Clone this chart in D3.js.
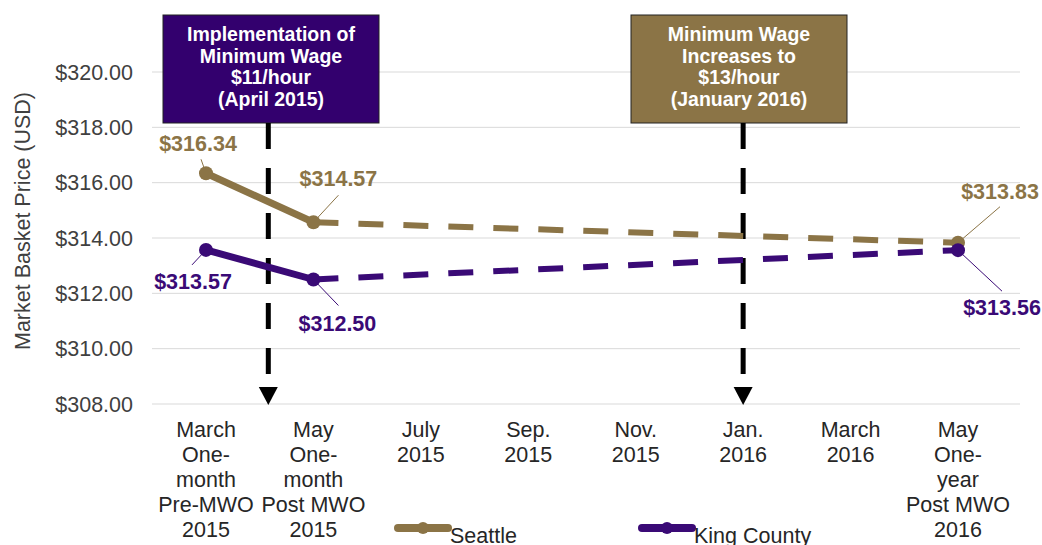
<!DOCTYPE html>
<html>
<head>
<meta charset="utf-8">
<script src="https://cdn.jsdelivr.net/npm/d3@7"></script>
<style>
  body { margin: 0; background: #fff; }
  svg { font-family: Arial, "Liberation Sans", sans-serif; }
</style>
</head>
<body>
<div id="chart"></div>
<script>
// categories (multi-line labels)
const categories = [
    ["March", "One-", "month", "Pre-MWO", "2015"],
    ["May", "One-", "month", "Post MWO", "2015"],
    ["July", "2015"],
    ["Sep.", "2015"],
    ["Nov.", "2015"],
    ["Jan.", "2016"],
    ["March", "2016"],
    ["May", "One-", "year", "Post MWO", "2016"]
];
const seriesNames = ["Seattle", "King County"];
const seattleValues = [316.34, 314.57, null, null, null, null, null, 313.83];
const kingCountyValues = [313.57, 312.50, null, null, null, null, null, 313.56];
const yTicks = [308, 310, 312, 314, 316, 318, 320];
const events = [
    { text: ["Implementation of", "Minimum Wage", "$11/hour", "(April 2015)"], at: 0.58 },
    { text: ["Minimum Wage", "Increases to", "$13/hour", "(January 2016)"], at: 5 }
];

const colors = { "Seattle": "#8b7446", "King County": "#3a0a76" };
const boxColors = ["#33006e", "#8b7446"];

// label offsets for the point annotations (pixels relative to point)
const labelLayout = {
    "Seattle": [[-8, -30, -5, -14], [25, -44, 25, -27], null, null, null, null, null, [42, -51, 42, -36]],
    "King County": [[-13, 32, -14, 15], [24, 44, 25, 26], null, null, null, null, null, [44, 57, 44, 41]]
};

const width = 1042, height = 545;
const svg = d3.select("#chart").append("svg")
    .attr("width", width)
    .attr("height", height);

const xScale = d3.scaleLinear().domain([0, categories.length - 1]).range([206, 958]);
const yScale = d3.scaleLinear().domain([308, 320]).range([404, 72]);
const gridLeft = 152, gridRight = 1020;

// gridlines
svg.append("g")
    .selectAll("line")
    .data(yTicks)
    .enter().append("line")
    .attr("x1", gridLeft)
    .attr("x2", gridRight)
    .attr("y1", d => yScale(d))
    .attr("y2", d => yScale(d))
    .style("stroke", "#d9d9d9")
    .style("stroke-width", 1);

// y tick labels
svg.append("g")
    .selectAll("text")
    .data(yTicks)
    .enter().append("text")
    .attr("x", 133)
    .attr("y", d => yScale(d))
    .attr("dy", "0.35em")
    .style("text-anchor", "end")
    .style("font-size", "21.5px")
    .style("fill", "#404040")
    .text(d => "$" + d3.format(".2f")(d));

// y title
svg.append("text")
    .attr("transform", `translate(30, 221) rotate(-90)`)
    .style("text-anchor", "middle")
    .style("font-size", "21.5px")
    .style("fill", "#404040")
    .text("Market Basket Price (USD)");

// x labels
const xLab = svg.append("g")
    .selectAll("text")
    .data(categories)
    .enter().append("text")
    .attr("x", (d, i) => xScale(i))
    .attr("y", 437)
    .style("text-anchor", "middle")
    .style("font-size", "21.5px")
    .style("fill", "#262626");
xLab.each(function(lines, i) {
    d3.select(this).selectAll("tspan")
        .data(lines)
        .enter().append("tspan")
        .attr("x", xScale(i))
        .attr("dy", (d, j) => j === 0 ? 0 : 25)
        .text(d => d);
});

// event markers
events.forEach((ev, k) => {
    const ex = xScale(ev.at);
    const bx0 = k === 0 ? 163 : 631;
    const bw = 216;
    svg.append("rect")
        .attr("x", bx0)
        .attr("y", 15)
        .attr("width", bw)
        .attr("height", 108)
        .style("fill", boxColors[k])
        .style("stroke", "#222")
        .style("stroke-width", 1);
    svg.append("text")
        .attr("x", bx0 + bw / 2)
        .attr("y", 41)
        .style("text-anchor", "middle")
        .style("font-size", "19.5px")
        .style("font-weight", "bold")
        .style("fill", "#fff")
        .selectAll("tspan")
        .data(ev.text)
        .enter().append("tspan")
        .attr("x", bx0 + bw / 2)
        .attr("dy", (d, j) => j === 0 ? 0 : 21.7)
        .text(d => d);

    svg.append("line")
        .attr("x1", ex).attr("x2", ex)
        .attr("y1", 123).attr("y2", 378)
        .style("stroke", "#000")
        .style("stroke-width", 5)
        .style("stroke-dasharray", "26,19");
    svg.append("path")
        .attr("d", `M${ex - 9.5},387 L${ex + 9.5},387 L${ex},405 Z`)
        .style("fill", "#000");
});

// series
const seriesData = [
    { name: "Seattle", values: seattleValues },
    { name: "King County", values: kingCountyValues }
];

seriesData.forEach(s => {
    const pts = s.values.map((v, i) => ({ i: i, v: v })).filter(d => d.v !== null);
    const line = d3.line().x(d => xScale(d.i)).y(d => yScale(d.v));

    // solid: first segment
    svg.append("path")
        .attr("d", line(pts.slice(0, 2)))
        .style("fill", "none")
        .style("stroke", colors[s.name])
        .style("stroke-width", 7)
        .style("stroke-linecap", "round");
    // dashed: rest
    svg.append("path")
        .attr("d", line(pts.slice(1)))
        .style("fill", "none")
        .style("stroke", colors[s.name])
        .style("stroke-width", 6)
        .style("stroke-dasharray", "25,20");

    svg.selectAll(".pt-" + s.name.replace(" ", ""))
        .data(pts)
        .enter().append("circle")
        .attr("cx", d => xScale(d.i))
        .attr("cy", d => yScale(d.v))
        .attr("r", 7)
        .style("fill", colors[s.name]);

    pts.forEach(d => {
        const lay = labelLayout[s.name][d.i];
        const px = xScale(d.i), py = yScale(d.v);
        svg.append("line")
            .attr("x1", px).attr("y1", py)
            .attr("x2", px + lay[2]).attr("y2", py + lay[3])
            .style("stroke", colors[s.name])
            .style("stroke-width", 1);
        svg.append("text")
            .attr("x", px + lay[0])
            .attr("y", py + lay[1])
            .attr("dy", "0.35em")
            .style("text-anchor", "middle")
            .style("font-size", "21.5px")
            .style("font-weight", "bold")
            .style("fill", colors[s.name])
            .text("$" + d3.format(".2f")(d.v));
    });
});

// legend
const legendX = [398, 642];
seriesNames.forEach((name, i) => {
    const lx = legendX[i];
    svg.append("line")
        .attr("x1", lx).attr("x2", lx + 50)
        .attr("y1", 528).attr("y2", 528)
        .style("stroke", colors[name])
        .style("stroke-width", 8)
        .style("stroke-linecap", "round");
    svg.append("circle")
        .attr("cx", lx + 25)
        .attr("cy", 528)
        .attr("r", 6)
        .style("fill", colors[name]);
    svg.append("text")
        .attr("x", lx + 52)
        .attr("y", 535)
        .attr("dy", "0.35em")
        .style("font-size", "21.5px")
        .style("fill", "#262626")
        .text(name);
});
</script>
</body>
</html>
